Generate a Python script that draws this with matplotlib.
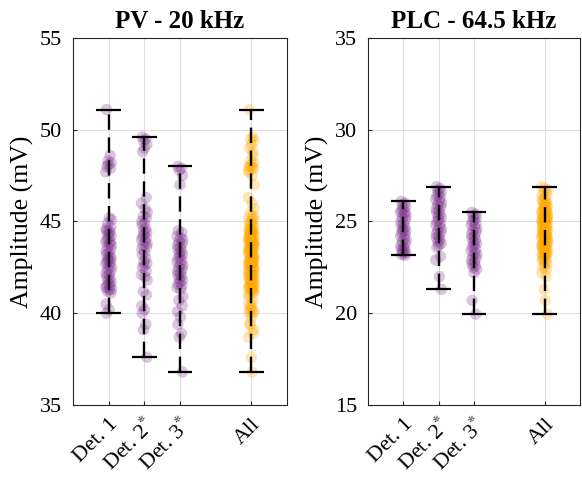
import numpy as np
import matplotlib
matplotlib.use("Agg")
import matplotlib.pyplot as plt

plt.rcParams['font.family'] = ['Liberation Serif', 'DejaVu Serif']
plt.rcParams['mathtext.fontset'] = 'stix'

categories = ["Det. 1", r"Det. 2$^{*}$", r"Det. 3$^{*}$", "All"]
positions = [1, 2, 3, 5]

pv_det1 = [51.1, 48.6, 48.3, 48.2, 48.1, 48.0, 47.9, 47.7, 45.2, 45.1,
           44.9, 44.7, 44.6, 44.5, 44.5, 44.4, 44.3, 44.2, 44.1, 44.0, 43.9, 43.9,
           43.8, 43.7, 43.6, 43.5, 43.4, 43.3, 43.2, 43.1, 43.0, 43.0, 42.9, 42.8,
           42.8, 42.7, 42.6, 42.5, 42.4, 42.3, 42.2, 42.1, 42.0, 41.9, 41.8, 41.7,
           41.6, 41.5, 41.5, 41.4, 41.3, 41.3, 41.2, 41.1, 40.5, 40.2, 40.0]
pv_det2 = [49.6, 49.5, 49.4, 49.2, 49.0, 48.8, 46.3, 46.0, 45.7, 45.5, 45.3, 45.2,
           45.0, 44.9, 44.8, 44.6, 44.5, 44.4, 44.3, 44.2, 44.1, 44.0, 43.9, 43.8,
           43.7, 43.6, 43.5, 43.3, 43.2, 43.0, 42.8, 42.7, 42.6, 42.5, 42.3, 42.1,
           42.0, 41.8, 41.2, 41.0, 40.4, 40.2, 40.0, 39.4, 39.1, 37.6]
pv_det3 = [48.0, 47.9, 47.8, 47.5, 47.0, 44.5, 44.4, 44.2, 44.1, 44.0, 43.9, 43.8,
           43.7, 43.6, 43.5, 43.4, 43.3, 43.2, 43.1, 43.0, 42.9, 42.8, 42.7, 42.6,
           42.5, 42.4, 42.3, 42.2, 42.1, 42.0, 41.9, 41.8, 41.7, 41.6, 41.5, 41.4,
           41.3, 40.9, 40.7, 40.4, 40.1, 39.8, 39.4, 38.9, 38.7, 36.8]

plc_det1 = [26.1, 26.0, 25.9, 25.8, 25.7, 25.6, 25.5, 25.5, 25.4, 25.3, 25.2, 25.1,
            25.0, 24.9, 24.8, 24.7, 24.6, 24.5, 24.5, 24.4, 24.3, 24.2, 24.1, 24.0,
            23.9, 23.8, 23.7, 23.6, 23.5, 23.5, 23.4, 23.3, 23.3, 23.2, 23.15]
plc_det2 = [26.9, 26.8, 26.7, 26.6, 26.5, 26.4, 26.3, 26.2, 26.1, 26.0, 25.9, 25.8,
            25.7, 25.6, 25.5, 25.4, 25.3, 25.2, 25.1, 25.0, 24.9, 24.8, 24.7, 24.6,
            24.5, 24.4, 24.3, 24.2, 24.1, 24.0, 23.9, 23.8, 23.7, 23.6, 23.1, 22.9,
            22.0, 21.3]
plc_det3 = [25.5, 25.4, 25.3, 25.2, 25.1, 25.0, 24.9, 24.8, 24.7, 24.6, 24.5, 24.4,
            24.3, 24.2, 24.1, 24.0, 23.9, 23.8, 23.7, 23.6, 23.5, 23.4, 23.3, 23.2,
            23.1, 23.0, 22.9, 22.8, 22.7, 22.6, 22.5, 22.4, 22.2, 20.7, 19.95]

panels = [
    dict(title="PV - 20 kHz", groups=[pv_det1, pv_det2, pv_det3], ylim=(35, 55),
         yticks=[35, 40, 45, 50, 55]),
    dict(title="PLC - 64.5 kHz", groups=[plc_det1, plc_det2, plc_det3], ylim=(15, 35),
         yticks=[15, 20, 25, 30, 35]),
]

purple = '#7E2F8E'
orange = '#FFA800'
jitter_cycle = np.array([-0.06, 0.04, -0.02, 0.07, 0.0, -0.05, 0.05, -0.08, 0.02, 0.08,
                         -0.03, 0.06, -0.07, 0.01])

fig = plt.figure(figsize=(5.82, 4.8), dpi=100)
axes_rects = [[73/582, 75/480, 214/582, 367/480], [368/582, 75/480, 212/582, 367/480]]

for rect, p in zip(axes_rects, panels):
    ax = fig.add_axes(rect)
    groups = p['groups'] + [sum(p['groups'], [])]
    colors = [purple, purple, purple, orange]
    for pos, vals, c in zip(positions, groups, colors):
        vals = np.asarray(vals)
        jit = np.resize(jitter_cycle, len(vals))
        ax.scatter(pos + jit, vals, s=68, color=c, alpha=0.28, edgecolors='none', zorder=2)
        lo, hi = vals.min(), vals.max()
        ax.vlines(pos, lo, hi, colors='black', linestyles=(0, (6.5, 3.2)), linewidth=1.7, zorder=3)
        ax.hlines([lo, hi], pos - 0.35, pos + 0.35, colors='black', linewidth=1.6, zorder=3)
    ax.set_xlim(0, 6)
    ax.set_ylim(*p['ylim'])
    ax.set_yticks(p['yticks'])
    ax.set_xticks(positions)
    ax.set_xticklabels(categories, rotation=45, ha='right', rotation_mode='anchor')
    ax.tick_params(direction='in', labelsize=16, length=3, color='#262626')
    ax.tick_params(axis='y', pad=8)
    ax.tick_params(axis='x', pad=7)
    ax.grid(True, color='#dcdcdc', linewidth=0.7, zorder=0)
    ax.set_axisbelow(True)
    for s in ax.spines.values():
        s.set_color('#262626')
        s.set_linewidth(0.8)
    ax.set_title(p['title'], fontsize=18, fontweight='bold', pad=7)
    ax.set_ylabel("Amplitude (mV)", fontsize=18.5, labelpad=4)

fig.savefig("out.png", dpi=100)
